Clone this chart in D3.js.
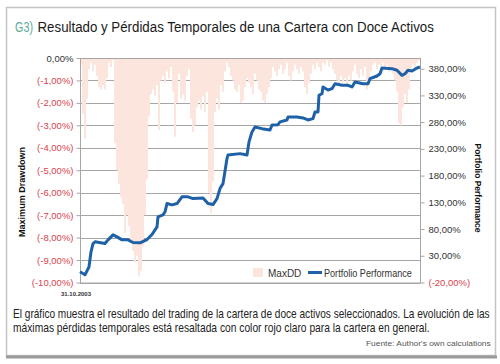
<!DOCTYPE html>
<html>
<head>
<meta charset="utf-8">
<script src="https://cdn.jsdelivr.net/npm/d3@7"></script>
<style>
  body { margin: 0; background: #fff; }
  text { font-family: "Liberation Sans", Arial, sans-serif; }
</style>
</head>
<body>
<div id="chart"></div>
<script>
// chart data
// max drawdown per observation (in %), one bar each
const maxDD = [
  -0.3, -2.5, -3.6, -1.8, -0.5, -0.2, -0.6, -0.3, -0.8, -1.3,
  -1.4, -1.2, -1.4, -0.9, -0.2, -0.4, -0.1, -3.8, -5.0, -5.6,
  -6.2, -6.5, -7.8, -7.0, -7.5, -8.2, -8.6, -9.1, -8.8, -9.7,
  -9.5, -8.4, -7.0, -5.4, -2.6, -1.6, -1.4, -1.7, -1.2, -3.2,
  -1.0, -0.8, -1.1, -0.6, -0.9, -0.4, -1.5, -3.5, -2.0, -0.7,
  -1.8, -1.6, -1.9, -0.8, -0.5, -2.7, -3.3, -3.0, -2.2, -1.9,
  -2.3, -1.7, -2.4, -1.5, -6.0, -6.9, -5.5, -2.4, -1.8, -2.3,
  -1.2, -1.5, -0.6, -0.2, -0.4, -0.8, -1.0, -1.4, -1.5, -1.2,
  -2.0, -1.9, -1.3, -0.9, -1.1, -1.3, -1.6, -0.7, -1.0, -1.4,
  -1.5, -1.9, -2.0, -1.6, -1.3, -0.9, -0.4, -0.6, -0.8, -0.5,
  -0.3, -0.7, -0.5, -0.2, -0.8, -1.0, -0.6, -0.3, -0.5, -0.7,
  -0.4, -0.6, -1.3, -1.6, -1.1, -0.7, -0.3, -0.5, -0.2, -0.4,
  -0.6, -0.2, -0.3, -0.1, -0.4, -0.2, -0.5, -0.7, -1.0, -1.2,
  -0.8, -1.1, -0.9, -1.2, -0.8, -1.0, -0.6, -0.3, -0.7, -0.9,
  -0.5, -0.8, -0.4, -1.4, -1.1, -0.6, -0.3, -0.2, -0.5, -0.3,
  -0.6, -0.2, -0.4, -0.3, -0.6, -0.4, -0.7, -1.0, -1.5, -2.9,
  -3.0, -2.2, -1.6, -2.0, -1.4, -0.6, -0.3, -0.5, -0.2, -0.1
];

// portfolio performance (in %) at observation number
const perfObs = [
  0, 2.5, 4.5, 5.5, 6.5, 7.5, 12.5, 14, 16.5, 18.5,
  21, 24, 26.5, 30, 33.5, 36, 38.5, 39, 41.5, 42.5,
  43.5, 46, 48.5, 51, 54, 56.5, 61.5, 64, 66.5, 68.5,
  70, 71.5, 73.5, 74, 80, 83.5, 84.5, 86, 87.5, 91,
  95, 96, 99, 100, 103.5, 104, 108.5, 111.5, 114, 116.5,
  117.5, 119, 119.5, 121, 121.5, 124, 126, 127.5, 131, 134,
  136, 137.5, 141.5, 144, 145, 148.5, 150, 151, 156, 158.5,
  161, 162.5, 164, 166, 168.5, 170
];
const perfVal = [
  0, -5.6, 9.3, 37.4, 52.9, 56.1, 52.9, 59.8, 69.2, 65.4,
  59.8, 59.8, 54.8, 54.2, 60.4, 69.7, 84.1, 102.8, 106.5, 112.1,
  127.7, 125.2, 127.7, 140.2, 140.2, 137.0, 138.3, 127.7, 125.8, 137.0,
  155.7, 165.0, 211.8, 218.7, 221.1, 218.7, 243.0, 261.7, 271.0, 267.8,
  265.4, 274.7, 275.3, 280.4, 284.1, 289.7, 289.7, 287.8, 284.1, 286.5,
  299.0, 299.0, 330.3, 333.2, 345.8, 340.2, 342.6, 351.9, 348.9, 348.9,
  345.8, 355.1, 351.9, 351.9, 361.3, 366.3, 370.6, 381.3, 380.0, 377.0,
  367.6, 370.6, 377.0, 375.7, 381.3, 383.2
];

const leftTicks = [0, -1, -2, -3, -4, -5, -6, -7, -8, -9, -10];
const rightTicks = [-20, 30, 80, 130, 180, 230, 280, 330, 380];
const firstDate = '31.10.2003';

const width = 500, height = 364;
const plot = { left: 80, right: 420, top: 58, bottom: 282.5 };

const red = '#d9434e';
const blue = '#1f61a8';
const pink = '#fbe5dd';

const fmt = v => {
  const s = Math.abs(v).toFixed(2).replace('.', ',') + '%';
  return v < 0 ? '(-' + s + ')' : s;
};

const svg = d3.select('#chart')
  .append('svg')
  .attr('width', width)
  .attr('height', height);

// squeeze a horizontal text to a given width (the print font is condensed)
function fitText(x, y, w, size, fill, str, anchor) {
  const t = svg.append('text')
    .attr('font-size', size)
    .attr('fill', fill)
    .text(str);
  const natural = t.node().getComputedTextLength();
  const sx = w / natural;
  const x0 = anchor === 'end' ? x - w : x;
  t.attr('transform', `translate(${x0},${y}) scale(${sx},1)`);
  return t;
}

// frame
svg.append('rect')
  .attr('x', 6.5).attr('y', 7.5)
  .attr('width', 489).attr('height', 348)
  .attr('fill', '#fff')
  .attr('stroke', '#c4c4c4')
  .attr('stroke-width', 1.5);
svg.append('line')
  .attr('x1', 6).attr('x2', 497)
  .attr('y1', 357).attr('y2', 357)
  .attr('stroke', '#9a9a9a')
  .attr('stroke-width', 3);

// title
fitText(15, 32, 18, 15, '#5aab99', 'G3)');
fitText(37.5, 32, 397, 15, '#1a1a1a',
  'Resultado y Pérdidas Temporales de una Cartera con Doce Activos');

// scales
const xBand = d3.scaleBand()
  .domain(d3.range(maxDD.length))
  .range([plot.left, plot.right])
  .padding(0);
const xLin = d3.scaleLinear()
  .domain([0, maxDD.length])
  .range([plot.left, plot.right]);
const yLeft = d3.scaleLinear()
  .domain([-10, 0])
  .range([plot.bottom, plot.top]);
const yRight = d3.scaleLinear()
  .domain([-20, 400])
  .range([plot.bottom, plot.top]);

// gridlines
svg.append('g')
  .selectAll('line')
  .data(leftTicks)
  .enter()
  .append('line')
  .attr('x1', plot.left).attr('x2', plot.right)
  .attr('y1', d => Math.round(yLeft(d)) + 0.5)
  .attr('y2', d => Math.round(yLeft(d)) + 0.5)
  .attr('stroke', '#a6a6a6')
  .attr('stroke-width', 1);

// drawdown bars
svg.append('g')
  .selectAll('rect')
  .data(maxDD)
  .enter()
  .append('rect')
  .attr('x', (d, i) => xBand(i))
  .attr('width', xBand.bandwidth())
  .attr('y', yLeft(0))
  .attr('height', d => yLeft(d) - yLeft(0))
  .attr('fill', pink);

// plot border
svg.append('rect')
  .attr('x', plot.left + 0.5).attr('y', plot.top + 0.5)
  .attr('width', plot.right - plot.left)
  .attr('height', plot.bottom - plot.top)
  .attr('fill', 'none')
  .attr('stroke', '#a6a6a6');

// left axis
const leftAxis = d3.axisLeft(yLeft)
  .tickValues(leftTicks)
  .tickSize(4)
  .tickFormat(d => fmt(d));
const gL = svg.append('g')
  .attr('transform', `translate(${plot.left + 0.5},0)`)
  .call(leftAxis);
gL.select('.domain').remove();
gL.selectAll('line').attr('stroke', '#a6a6a6');
gL.selectAll('text')
  .attr('font-size', 9.5)
  .attr('font-family', '"Liberation Sans", Arial, sans-serif')
  .attr('x', -7)
  .attr('fill', d => d < 0 ? red : '#333');

// right axis
const rightAxis = d3.axisRight(yRight)
  .tickValues(rightTicks)
  .tickSize(4)
  .tickFormat(d => fmt(d));
const gR = svg.append('g')
  .attr('transform', `translate(${plot.right + 0.5},0)`)
  .call(rightAxis);
gR.select('.domain').remove();
gR.selectAll('line').attr('stroke', '#a6a6a6');
gR.selectAll('text')
  .attr('font-size', 9.5)
  .attr('font-family', '"Liberation Sans", Arial, sans-serif')
  .attr('x', 8)
  .attr('fill', d => d < 0 ? red : '#333');

// performance line
const line = d3.line()
  .x(d => xLin(d[0]))
  .y(d => yRight(d[1]));
svg.append('path')
  .datum(perfObs.map((o, i) => [o, perfVal[i]]))
  .attr('d', line)
  .attr('fill', 'none')
  .attr('stroke', blue)
  .attr('stroke-width', 3)
  .attr('stroke-linejoin', 'round');

// x label
svg.append('text')
  .attr('x', plot.left - 4).attr('y', 296)
  .attr('text-anchor', 'middle')
  .attr('font-size', 6)
  .attr('font-weight', 'bold')
  .attr('fill', '#333')
  .text(firstDate);

// axis titles
svg.append('text')
  .attr('transform', 'translate(25,192) rotate(-90)')
  .attr('text-anchor', 'middle')
  .attr('font-size', 9)
  .attr('font-weight', 'bold')
  .attr('textLength', 90)
  .attr('lengthAdjust', 'spacingAndGlyphs')
  .attr('fill', '#111')
  .text('Maximum Drawdown');
svg.append('text')
  .attr('transform', 'translate(475,188) rotate(90)')
  .attr('text-anchor', 'middle')
  .attr('font-size', 9)
  .attr('font-weight', 'bold')
  .attr('textLength', 89)
  .attr('lengthAdjust', 'spacingAndGlyphs')
  .attr('fill', '#111')
  .text('Portfolio Performance');

// legend
svg.append('rect')
  .attr('x', 253).attr('y', 268)
  .attr('width', 10).attr('height', 9)
  .attr('fill', pink);
svg.append('text')
  .attr('x', 268).attr('y', 277)
  .attr('font-size', 10)
  .attr('fill', '#333')
  .text('MaxDD');
svg.append('line')
  .attr('x1', 308).attr('x2', 322)
  .attr('y1', 272.5).attr('y2', 272.5)
  .attr('stroke', blue)
  .attr('stroke-width', 3);
fitText(324, 277, 88, 10, '#333', 'Portfolio Performance');

// caption
fitText(13, 318, 477, 12, '#222',
  'El gráfico muestra el resultado del trading de la cartera de doce activos seleccionados. La evolución de las');
fitText(13, 332, 417, 12, '#222',
  'máximas pérdidas temporales está resaltada con color rojo claro para la cartera en general.');
fitText(491, 346, 125, 8, '#555', "Fuente: Author's own calculations", 'end');
</script>
</body>
</html>
